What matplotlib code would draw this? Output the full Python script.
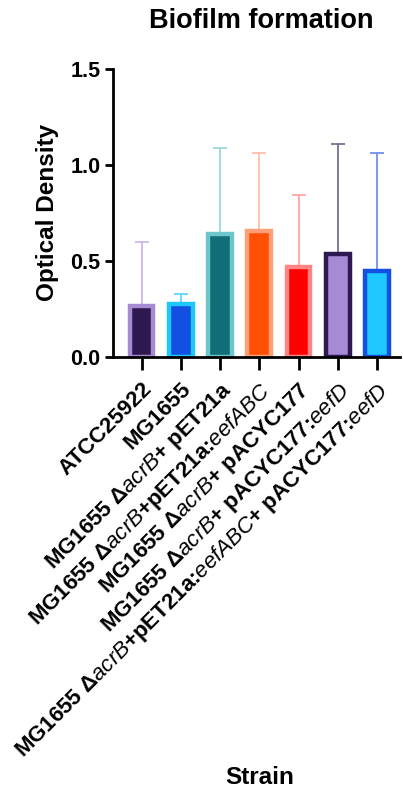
import numpy as np
import matplotlib
matplotlib.use("Agg")
import matplotlib.pyplot as plt

plt.rcParams['font.family'] = ['Liberation Sans', 'DejaVu Sans']
plt.rcParams['mathtext.fontset'] = 'custom'
plt.rcParams['mathtext.rm'] = 'Liberation Sans:bold'
plt.rcParams['mathtext.it'] = 'Liberation Sans:italic'

strains = [
    "ATCC25922",
    "MG1655",
    r"MG1655 Δ$\mathit{acrB}$+ pET21a",
    r"MG1655 Δ$\mathit{acrB}$+pET21a:$\mathit{eefABC}$",
    r"MG1655 Δ$\mathit{acrB}$+ pACYC177",
    r"MG1655 Δ$\mathit{acrB}$+ pACYC177:$\mathit{eefD}$",
    r"MG1655 Δ$\mathit{acrB}$+pET21a:$\mathit{eefABC}$+ pACYC177:$\mathit{eefD}$",
]
means = [0.265, 0.274, 0.643, 0.656, 0.466, 0.538, 0.446]
upper = [0.597, 0.328, 1.090, 1.066, 0.845, 1.108, 1.061]
errs = [u - m for u, m in zip(upper, means)]

fill_cols = ['#2D1850', '#134FE0', '#0F6E77', '#FF5005', '#FF0000', '#A68BD4', '#1EC8FF']
edge_cols = ['#A68BD4', '#1EC8FF', '#6CC6CA', '#FFA07A', '#FF8585', '#2D1850', '#134FE0']
err_cols = ['#CBB9EA', '#5AD8FF', '#9BDADD', '#FFBFA6', '#FFA5A5', '#7C6E92', '#6F8FF0']

fig = plt.figure(figsize=(4.03, 7.89), dpi=100)
ax = fig.add_axes([0.281, 0.548, 0.711, 0.364])

x = np.arange(len(strains))
for i in x:
    ax.errorbar(i, means[i], yerr=[[0], [errs[i]]], fmt='none', ecolor=err_cols[i],
                elinewidth=1.3, capsize=4.7, capthick=1.3, zorder=1)
    ax.bar(i, means[i], width=0.6, color=fill_cols[i], edgecolor=edge_cols[i],
           linewidth=3.2, zorder=2)

ax.set_xlim(-0.72, 6.58)
ax.set_ylim(0, 1.5)
ax.set_yticks([0.0, 0.5, 1.0, 1.5])
ax.set_yticklabels(['0.0', '0.5', '1.0', '1.5'], fontsize=15.5, fontweight='bold')
ax.set_xticks(x)
ax.set_xticklabels(strains, rotation=45, ha='right', rotation_mode='anchor',
                   fontsize=16, fontweight='bold')
ax.spines['top'].set_visible(False)
ax.spines['right'].set_visible(False)
ax.spines['left'].set_linewidth(2)
ax.spines['bottom'].set_linewidth(2)
ax.tick_params(axis='y', length=6, width=2, pad=3)
ax.tick_params(axis='x', length=9, width=2, pad=7)

fig.text(0.648, 1 - 21 / 789, "Biofilm formation", fontsize=19.5, fontweight='bold',
         ha='center', va='center')
fig.text(47.5 / 403, 1 - 212 / 789, "Optical Density", fontsize=17.5, fontweight='bold',
         ha='center', va='center', rotation=90)
fig.text(260 / 403, 1 - 777 / 789, "Strain", fontsize=17.5, fontweight='bold',
         ha='center', va='center')

fig.savefig("out.png", dpi=100)
